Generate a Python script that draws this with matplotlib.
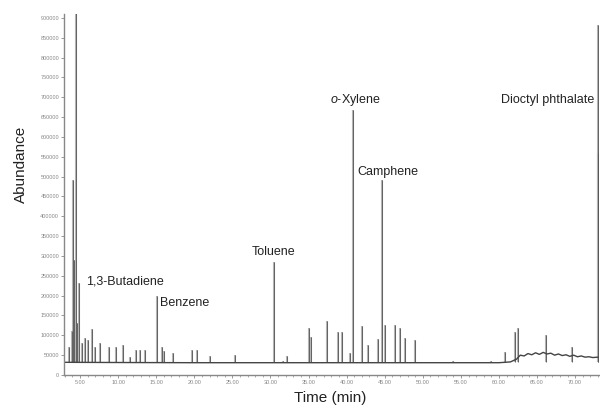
import matplotlib
matplotlib.use("Agg")
import matplotlib.pyplot as plt
from matplotlib.ticker import MultipleLocator, FormatStrFormatter

plt.rcParams['font.family'] = ['Liberation Sans', 'DejaVu Sans']
plt.rcParams['mathtext.fontset'] = 'custom'
plt.rcParams['mathtext.it'] = 'Liberation Sans:italic'
plt.rcParams['mathtext.rm'] = 'Liberation Sans'

# peak retention times (min) and apex abundance
peak_times = [3.6, 3.9, 4.05, 4.25, 4.45, 4.6, 4.9, 5.3, 5.6, 6.0, 6.6, 7.0, 7.6,
              8.8, 9.7, 10.6, 11.5, 12.4, 12.9, 13.5, 15.05, 15.7, 16.0, 17.2,
              19.7, 20.3, 22.1, 25.3, 30.4, 31.6, 32.2, 35.05, 35.3, 37.4, 38.85,
              39.4, 40.5, 40.85, 42.05, 42.8, 44.1, 44.67, 45.1, 46.4, 47.05,
              47.6, 49.0, 50.5, 54.0, 57.8, 59.0, 60.8, 62.1, 62.5, 66.2, 69.6,
              72.95, 73.0]
peak_heights = [70000, 110000, 492000, 290000, 1200000, 130000, 232000, 80000,
                93000, 88000, 116000, 70000, 80000, 70000, 70000, 75000, 45000,
                62000, 62000, 62000, 200000, 70000, 60000, 55000, 62000, 62000,
                47000, 50000, 285000, 35000, 47000, 118000, 95000, 137000,
                108000, 109000, 55000, 668000, 124000, 75000, 90000, 492000,
                126000, 126000, 118000, 93000, 88000, 34000, 36000, 34000,
                36000, 58000, 109000, 118000, 100000, 71000, 560000, 882000]

# baseline trace
base_t = [2.9, 10.0, 20.0, 30.0, 40.0, 50.0, 60.0, 61.5, 62.3, 62.8, 63.3,
          63.8, 64.3, 64.8, 65.3, 65.8, 66.3, 66.8, 67.3, 67.8, 68.3, 68.8,
          69.3, 69.8, 70.3, 70.8, 71.3, 71.8, 72.3, 73.0]
base_y = [32000, 31500, 31000, 31000, 31000, 31000, 31000, 33000, 40000,
          50000, 48000, 54000, 51000, 56000, 52000, 57000, 53000, 55000,
          50000, 53000, 49000, 51000, 47000, 50000, 46000, 48000, 45000,
          46000, 44000, 45000]

# compound labels
label_names = ['1,3-Butadiene', 'Benzene', 'Toluene', r'$\it{o}$-Xylene',
               'Camphene', 'Dioctyl phthalate']
label_x = [5.8, 15.5, 27.5, 37.8, 41.4, 72.5]
label_y = [234500, 181500, 310000, 693000, 512000, 693000]
label_ha = ['left', 'left', 'left', 'left', 'left', 'right']

fig = plt.figure(figsize=(6.0, 4.12), dpi=100)
ax = fig.add_axes([0.1067, 0.0898, 0.8913, 0.8762])

ax.vlines(peak_times, 32000, peak_heights, color='#b4b4b4', linewidth=1.5)
ax.vlines(peak_times, 32000, peak_heights, color='#555555', linewidth=0.6)
ax.plot(base_t, base_y, color='#444444', linewidth=1.0)

for name, x, y, ha in zip(label_names, label_x, label_y, label_ha):
    ax.text(x, y, name, fontsize=9, ha=ha, va='center', color='#222222')

ax.set_xlim(2.9, 73.1)
ax.set_ylim(0, 910000)
ax.xaxis.set_major_locator(MultipleLocator(5))
ax.xaxis.set_minor_locator(MultipleLocator(1))
ax.xaxis.set_major_formatter(FormatStrFormatter('%.2f'))
ax.yaxis.set_major_locator(MultipleLocator(50000))
ax.yaxis.set_major_formatter(FormatStrFormatter('%d'))
ax.tick_params(axis='both', labelsize=4, colors='#888888', length=2, width=0.6,
               pad=1.5)
ax.tick_params(axis='x', which='minor', length=1.5, width=0.5, colors='#888888')

for side in ['top', 'right']:
    ax.spines[side].set_visible(False)
for side in ['left', 'bottom']:
    ax.spines[side].set_color('#888888')
    ax.spines[side].set_linewidth(1.0)

fig.text(0.55, 0.035, 'Time (min)', fontsize=11, ha='center', va='center',
         color='#222222')
fig.text(0.035, 0.6, 'Abundance', fontsize=11, ha='center', va='center',
         rotation=90, color='#222222')

fig.savefig('out.png', dpi=100)
